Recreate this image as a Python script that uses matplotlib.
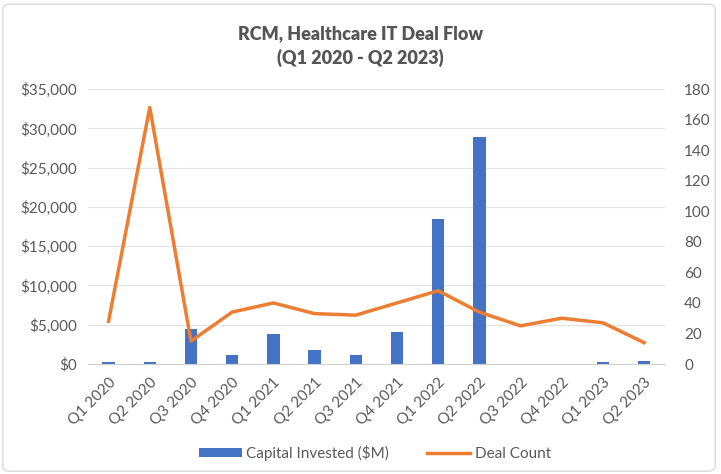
import matplotlib
matplotlib.use("Agg")
import matplotlib.pyplot as plt
from matplotlib.patches import FancyBboxPatch
from matplotlib.ticker import FuncFormatter, MultipleLocator

quarters = ["Q1 2020", "Q2 2020", "Q3 2020", "Q4 2020", "Q1 2021", "Q2 2021", "Q3 2021",
            "Q4 2021", "Q1 2022", "Q2 2022", "Q3 2022", "Q4 2022", "Q1 2023", "Q2 2023"]
capital_invested = [200, 250, 4500, 1100, 3780, 1820, 1100, 4070, 18450, 28900, 0, 50, 200, 350]
deal_count = [28, 168, 15, 34, 40, 33, 32, 40, 48, 34, 25, 30, 27, 14]

plt.rcParams['font.family'] = ['Lato', 'DejaVu Sans']
txt = '#595959'
fig = plt.figure(figsize=(7.21, 4.74), dpi=100)
fig.patches.append(FancyBboxPatch((0.004, 0.006), 0.988, 0.985, boxstyle="round,pad=0,rounding_size=0.01",
                                  transform=fig.transFigure, fill=False, edgecolor='#d9d9d9', linewidth=1))
ax = fig.add_axes([0.122, 0.232, 0.8, 0.58])
x = list(range(len(quarters)))
ax.bar(x, capital_invested, width=0.3, color='#4472c4', label='Capital Invested ($M)', zorder=2)
ax.set_ylim(0, 35000)
ax.set_xlim(-0.5, len(quarters) - 0.5)
ax.yaxis.set_major_locator(MultipleLocator(5000))
ax.yaxis.set_major_formatter(FuncFormatter(lambda v, p: f"${v:,.0f}"))
ax.grid(axis='y', color='#e3e3e3', linewidth=0.8, zorder=0)
ax.set_axisbelow(True)
for s in ['top', 'left', 'right']:
    ax.spines[s].set_visible(False)
ax.spines['bottom'].set_color('#d0d0d0')
ax.tick_params(axis='both', length=0, labelsize=11, colors=txt, pad=8)
ax.set_xticks(x)
ax.set_xticklabels(quarters, rotation=45, ha='right', rotation_mode='anchor')

ax2 = ax.twinx()
ax2.plot(x, deal_count, color='#ed7d31', linewidth=2.5, label='Deal Count', zorder=3)
ax2.set_ylim(0, 180)
ax2.yaxis.set_major_locator(MultipleLocator(20))
for s in ['top', 'left', 'right', 'bottom']:
    ax2.spines[s].set_visible(False)
ax2.tick_params(axis='y', length=0, labelsize=11, colors=txt, pad=14)

fig.text(0.5, 0.93, "RCM, Healthcare IT Deal Flow", ha='center', va='center',
         fontsize=13, fontweight='heavy', color='#555555')
fig.text(0.5, 0.877, "(Q1 2020 - Q2 2023)", ha='center', va='center',
         fontsize=13, fontweight='heavy', color='#555555')

h1, l1 = ax.get_legend_handles_labels()
h2, l2 = ax2.get_legend_handles_labels()
leg = fig.legend(h1 + h2, l1 + l2, loc='center', bbox_to_anchor=(0.52, 0.045), ncol=2,
                 frameon=False, fontsize=11, handlelength=2.8, handleheight=0.5,
                 columnspacing=2.5, handletextpad=0.3)
for t in leg.get_texts():
    t.set_color(txt)
fig.savefig("out.png", dpi=100)
